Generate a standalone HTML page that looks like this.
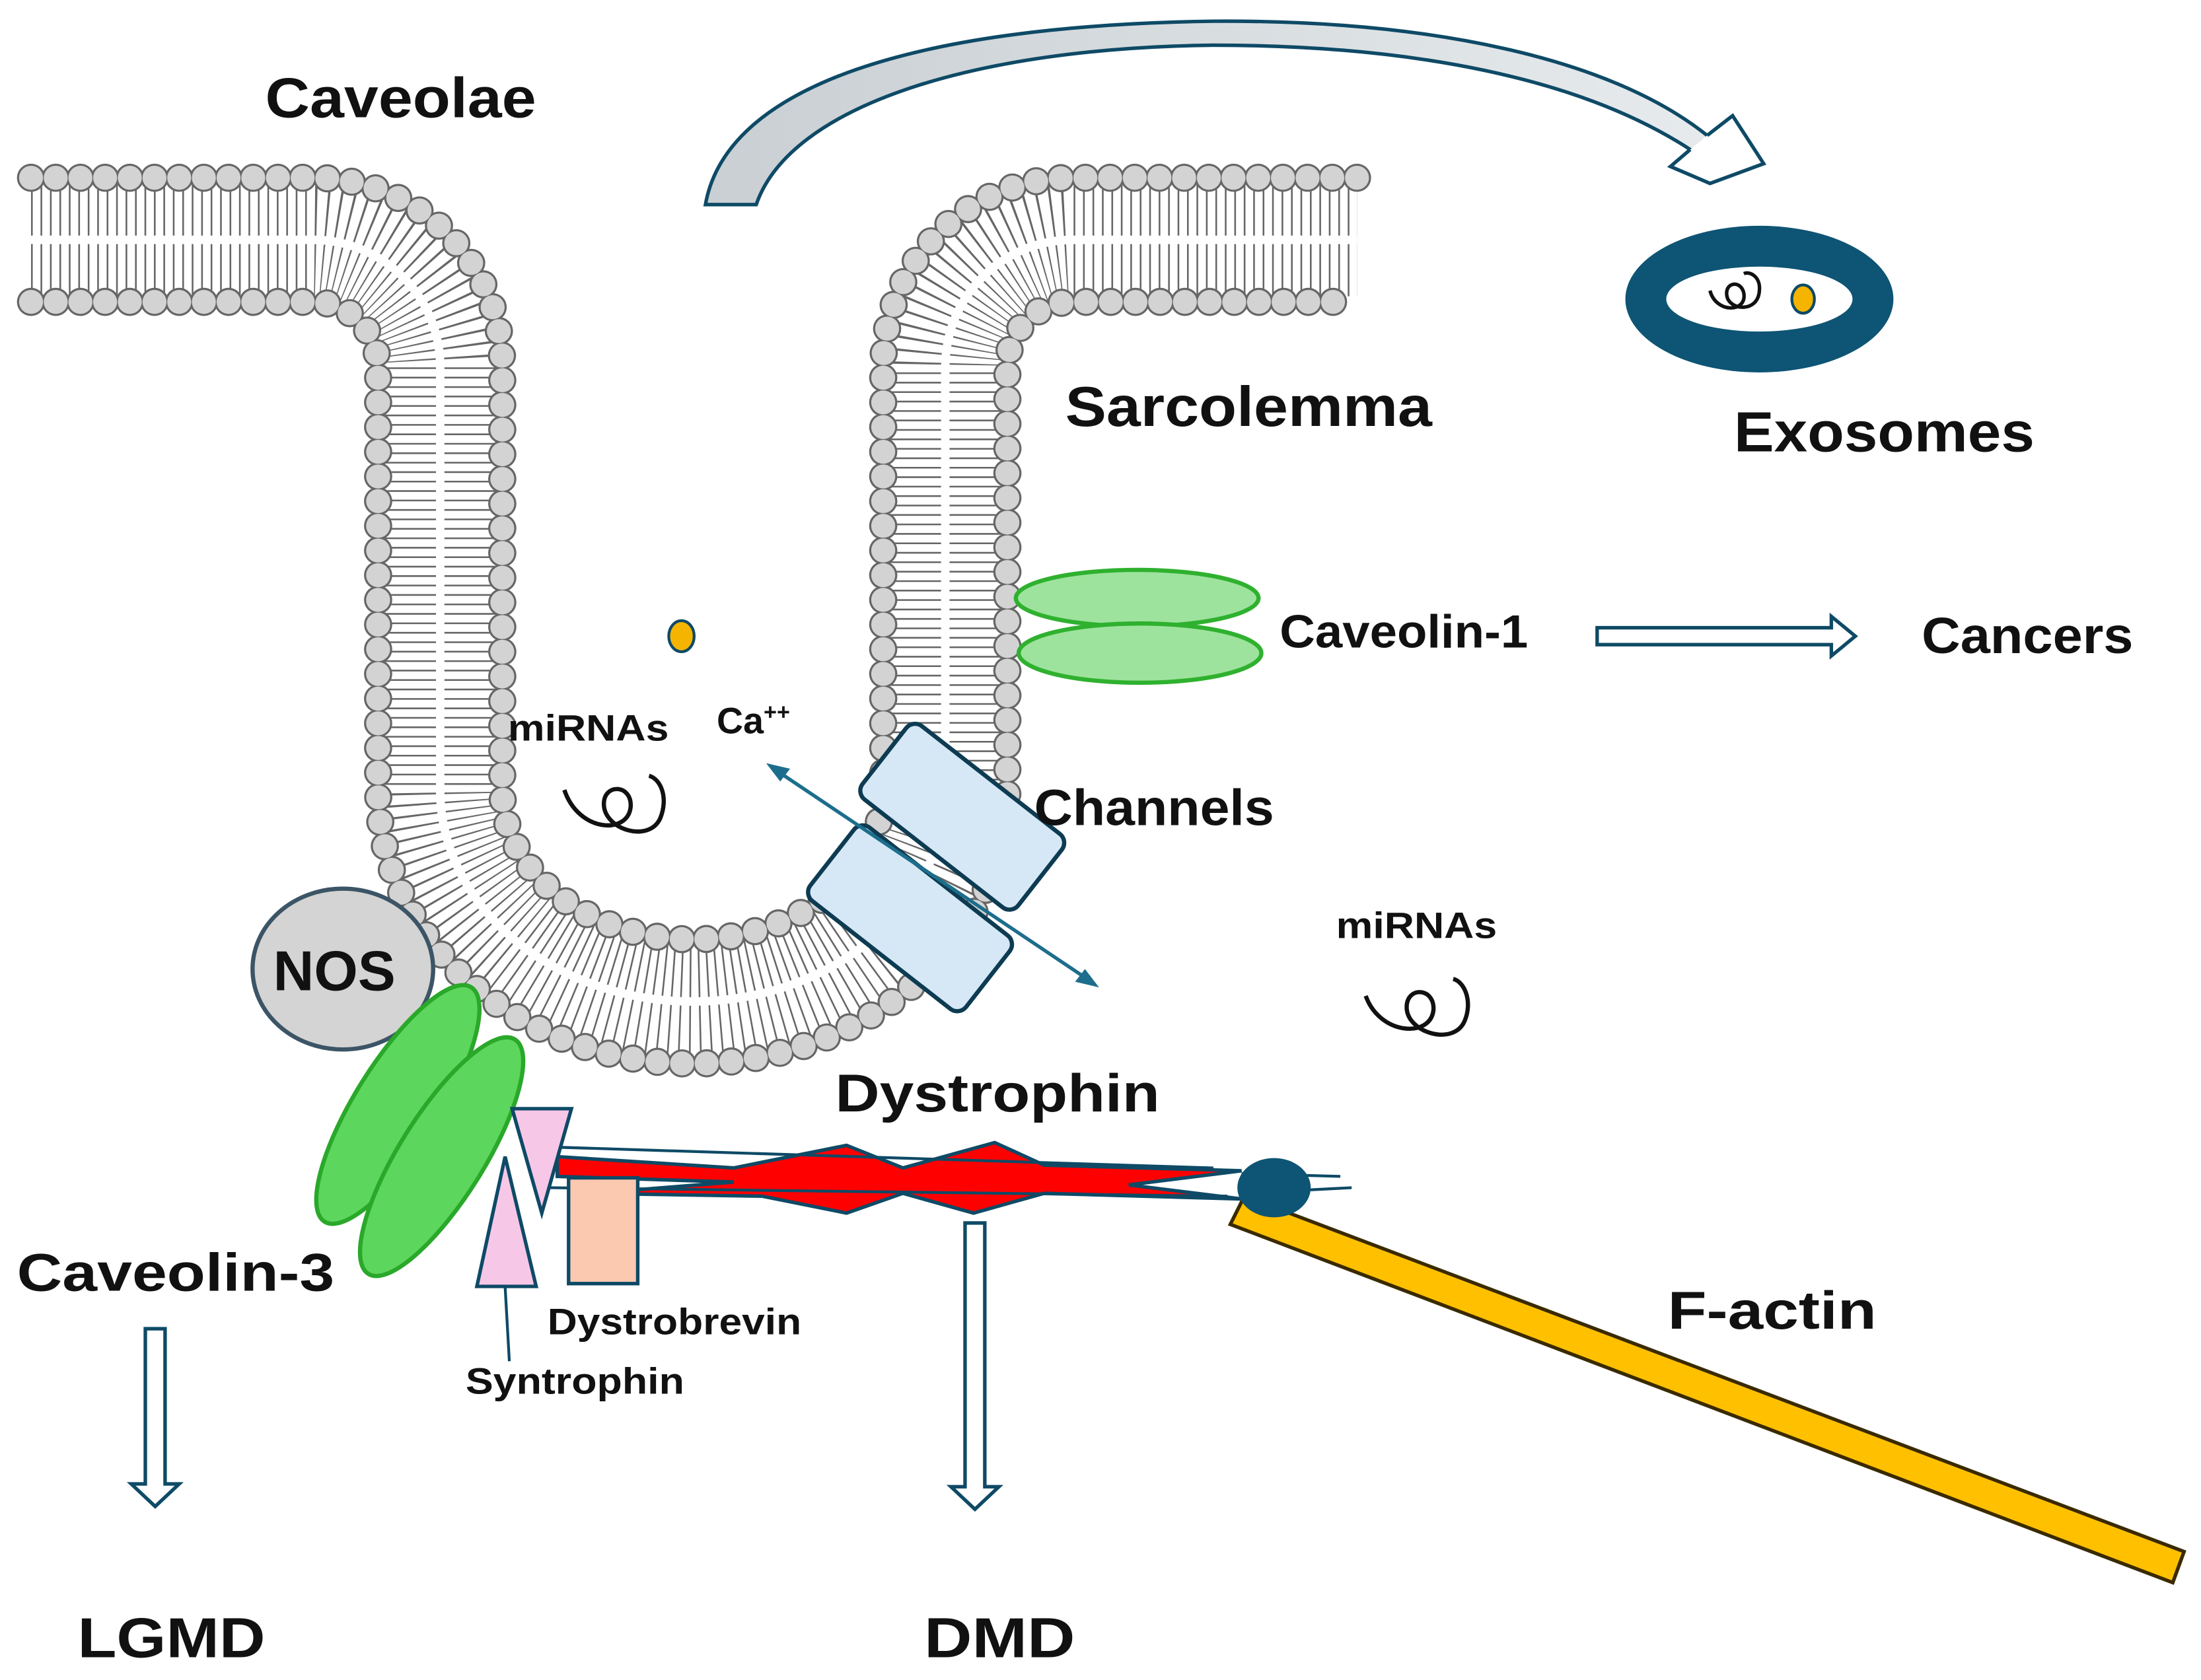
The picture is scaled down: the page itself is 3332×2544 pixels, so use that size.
<!DOCTYPE html>
<html><head><meta charset="utf-8"><style>
html,body{margin:0;padding:0;background:#fff}
svg{display:block}
text{font-family:"Liberation Sans",sans-serif;font-weight:bold;fill:#111}
</style></head><body>
<svg width="3332" height="2544" viewBox="0 0 1560 1191" xmlns="http://www.w3.org/2000/svg">
<defs>
<linearGradient id="ag" x1="0" y1="0" x2="1" y2="0">
<stop offset="0" stop-color="#c9cfd3"/><stop offset="1" stop-color="#e8ecee"/></linearGradient>
</defs>
<g fill="none">
<path d="M22,170 H222 A90,90 0 0 1 312,260 V560 A179,150 0 0 0 670,560 V260 A90,90 0 0 1 760,170 H962" stroke="#666" stroke-width="80" stroke-dasharray="1.2 5.5"/>
<path d="M22,170 H222 A90,90 0 0 1 312,260 V560 A179,150 0 0 0 670,560 V260 A90,90 0 0 1 760,170 H962" stroke="#fff" stroke-width="6"/>
<path d="M22,126 H222 A134,134 0 0 1 356,260 V560 A135,106 0 0 0 626,560 V260 A134,134 0 0 1 760,126 H962" stroke="#666" stroke-width="20" stroke-linecap="round" stroke-dasharray="0 17.5"/>
<path d="M22,126 H222 A134,134 0 0 1 356,260 V560 A135,106 0 0 0 626,560 V260 A134,134 0 0 1 760,126 H962" stroke="#d3d3d3" stroke-width="17" stroke-linecap="round" stroke-dasharray="0 17.5"/>
<path d="M22,214 H222 A46,46 0 0 1 268,260 V560 A223,194 0 0 0 714,560 V260 A46,46 0 0 1 760,214 H962" stroke="#666" stroke-width="20" stroke-linecap="round" stroke-dasharray="0 17.5"/>
<path d="M22,214 H222 A46,46 0 0 1 268,260 V560 A223,194 0 0 0 714,560 V260 A46,46 0 0 1 760,214 H962" stroke="#d3d3d3" stroke-width="17" stroke-linecap="round" stroke-dasharray="0 17.5"/>
</g>
<path d="M500,145 C515,60 650,18 860,15 C1010,14 1140,40 1210,96 L1228,82 L1250,116 L1212,130 L1184,118 L1198,106 C1120,55 1000,32 860,32 C690,34 560,75 536,145 Z" fill="url(#ag)" stroke="#0e4a66" stroke-width="2.5"/>
<path d="M1210,96 L1228,82 L1250,116 L1212,130 L1184,118 L1198,106" fill="#fff" stroke="#0e4a66" stroke-width="2.5"/>
<ellipse cx="1247" cy="212" rx="95" ry="52" fill="#0e5474"/>
<ellipse cx="1247" cy="212" rx="66" ry="23" fill="#fff"/>
<ellipse cx="1278" cy="212" rx="8" ry="10" fill="#f5b400" stroke="#0e4a66" stroke-width="2"/>
<path d="M1212,206 C1216,222 1238,222 1236,208 C1234,198 1222,200 1224,210 C1226,220 1246,222 1247,206 C1248,196 1240,192 1236,194" fill="none" stroke="#111" stroke-width="2.5"/>
<text x="188" y="83" font-size="40" textLength="192" lengthAdjust="spacingAndGlyphs">Caveolae</text>
<text x="755" y="302" font-size="40" textLength="260" lengthAdjust="spacingAndGlyphs">Sarcolemma</text>
<text x="1229" y="320" font-size="40" textLength="213" lengthAdjust="spacingAndGlyphs">Exosomes</text>
<ellipse cx="806" cy="424" rx="86" ry="20" fill="#9de39d" stroke="#2fb12f" stroke-width="3"/>
<ellipse cx="808" cy="463" rx="86" ry="21" fill="#9de39d" stroke="#2fb12f" stroke-width="3"/>
<text x="907" y="459" font-size="33" textLength="176" lengthAdjust="spacingAndGlyphs">Caveolin-1</text>
<path d="M1132,445 H1298 V437 L1315,451 L1298,465 V457 H1132 Z" fill="#fff" stroke="#0e4a66" stroke-width="2.5"/>
<text x="1362" y="463" font-size="36" textLength="150" lengthAdjust="spacingAndGlyphs">Cancers</text>
<ellipse cx="483" cy="451" rx="9" ry="11" fill="#f5b400" stroke="#0e4a66" stroke-width="2"/>
<text x="360" y="525" font-size="26" textLength="114" lengthAdjust="spacingAndGlyphs">miRNAs</text>
<text x="508" y="520" font-size="26">Ca<tspan font-size="16" dy="-10">++</tspan></text>
<path d="M400,560 C410,590 445,592 447,572 C448,556 428,555 428,570 C428,588 460,598 468,580 C474,565 468,552 460,550" fill="none" stroke="#111" stroke-width="3"/>
<path d="M968,706 C978,734 1014,736 1016,716 C1017,700 997,699 997,714 C997,732 1030,742 1038,724 C1044,710 1038,696 1030,694" fill="none" stroke="#111" stroke-width="3"/>
<text x="947" y="665" font-size="26" textLength="114" lengthAdjust="spacingAndGlyphs">miRNAs</text>
<rect x="-70" y="-33" width="140" height="66" rx="8" fill="#d6e8f6" stroke="#0d3b52" stroke-width="3" transform="translate(682,579) rotate(38)"/>
<rect x="-70" y="-33" width="140" height="66" rx="8" fill="#d6e8f6" stroke="#0d3b52" stroke-width="3" transform="translate(645,651) rotate(38)"/>
<line x1="550" y1="546" x2="772" y2="695" stroke="#1c6e8c" stroke-width="2.5"/>
<path d="M543,541 L560,545 L553,554 Z" fill="#1c6e8c"/>
<path d="M779,700 L762,696 L769,687 Z" fill="#1c6e8c"/>
<text x="733" y="585" font-size="36" textLength="170" lengthAdjust="spacingAndGlyphs">Channels</text>
<ellipse cx="243" cy="687" rx="64" ry="57" fill="#d4d4d4" stroke="#3c5566" stroke-width="3"/>
<text x="237" y="702" font-size="40" text-anchor="middle">NOS</text>
<ellipse cx="0" cy="0" rx="98" ry="30" fill="#5cd65c" stroke="#2aa82a" stroke-width="3" transform="translate(282,783) rotate(-58)"/>
<ellipse cx="0" cy="0" rx="98" ry="30" fill="#5cd65c" stroke="#2aa82a" stroke-width="3" transform="translate(313,820) rotate(-58)"/>
<path d="M395,820 L520,828 L600,812 L640,828 L705,810 L740,826 L880,830 L800,840 L880,850 L740,846 L690,860 L640,846 L600,860 L540,848 L420,846 L520,838 L395,834 Z" fill="#f00" stroke="#0e4a66" stroke-width="2.5"/>
<path d="M385,813 L860,828 M390,842 L870,848 M880,832 L950,834 M880,846 L958,842" stroke="#0e4a66" stroke-width="2"/>
<path d="M882,848 L1548,1100 L1540,1122 L872,868 Z" fill="#ffc000" stroke="#3a2a00" stroke-width="2.5"/>
<ellipse cx="903" cy="842" rx="26" ry="21" fill="#0e5474"/>
<path d="M363,786 L405,786 L384,860 Z" fill="#f7c7e8" stroke="#0e4a66" stroke-width="2.5"/>
<path d="M338,912 L380,912 L358,820 Z" fill="#f7c7e8" stroke="#0e4a66" stroke-width="2.5"/>
<rect x="403" y="835" width="49" height="75" fill="#fbc8b0" stroke="#0e4a66" stroke-width="2.5"/>
<line x1="358" y1="912" x2="361" y2="965" stroke="#0e4a66" stroke-width="2"/>
<text x="592" y="788" font-size="38" textLength="230" lengthAdjust="spacingAndGlyphs">Dystrophin</text>
<text x="1182" y="942" font-size="38" textLength="148" lengthAdjust="spacingAndGlyphs">F-actin</text>
<text x="12" y="915" font-size="38" textLength="225" lengthAdjust="spacingAndGlyphs">Caveolin-3</text>
<text x="388" y="946" font-size="26" textLength="180" lengthAdjust="spacingAndGlyphs">Dystrobrevin</text>
<text x="330" y="988" font-size="26" textLength="155" lengthAdjust="spacingAndGlyphs">Syntrophin</text>
<path d="M103,942 H117 V1052 H127 L110,1068 L93,1052 H103 Z" fill="#fff" stroke="#0e4a66" stroke-width="2.5"/>
<path d="M684,867 H698 V1054 H708 L691,1070 L674,1054 H684 Z" fill="#fff" stroke="#0e4a66" stroke-width="2.5"/>
<text x="55" y="1175" font-size="40" textLength="133" lengthAdjust="spacingAndGlyphs">LGMD</text>
<text x="655" y="1175" font-size="40" textLength="107" lengthAdjust="spacingAndGlyphs">DMD</text>
</svg>
</body></html>
